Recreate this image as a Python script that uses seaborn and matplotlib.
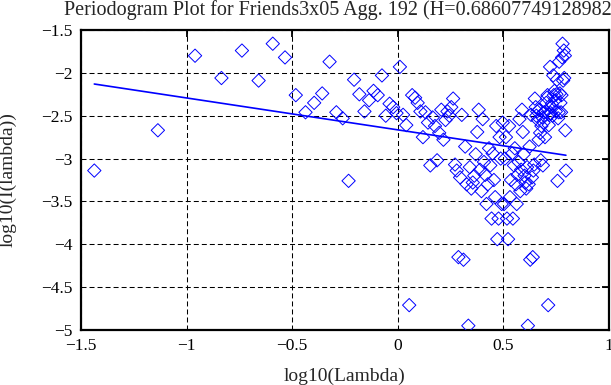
"""
Periodogram plot (log-log) for Friends3x05, aggregation 192.
"""

import numpy as np
import pandas as pd
import matplotlib
matplotlib.use("Agg")
import matplotlib.pyplot as plt
import seaborn as sns

# ── Data ─────────────────────────────────────────────────────────────────────
TITLE = "Periodogram Plot for Friends3x05 Agg. 192 (H=0.686077491289826)"
H_ESTIMATE = 0.68607749128982
FIT_INTERCEPT = -2.665

# log10 of the Fourier frequencies (left half then right half)
log_lambda = [
    -1.437, -1.136, -0.960, -0.835, -0.738, -0.659, -0.592, -0.534, -0.483, -0.437,
    -0.396, -0.358, -0.323, -0.291, -0.261, -0.233, -0.207, -0.182, -0.158, -0.136,
    -0.115, -0.095, -0.075, -0.057, -0.039, -0.022, -0.006, 0.010, 0.025, 0.040,
    0.054, 0.068, 0.082, 0.094, 0.107, 0.119, 0.131, 0.143, 0.154, 0.165,
    0.176, 0.186, 0.196, 0.206, 0.216, 0.226, 0.235, 0.244, 0.253, 0.262,
    0.271, 0.279, 0.287, 0.295, 0.303, 0.311, 0.319, 0.326, 0.334, 0.341,
    0.348, 0.355, 0.362, 0.369, 0.376, 0.383, 0.389, 0.396, 0.402, 0.408,
    0.414, 0.420, 0.426, 0.432, 0.438, 0.444, 0.449, 0.455, 0.461, 0.466,
    0.471, 0.477, 0.482, 0.487, 0.492, 0.497,
    0.503, 0.507, 0.512, 0.517, 0.522, 0.527, 0.531, 0.536, 0.541, 0.545,
    0.550, 0.554, 0.559, 0.563, 0.567, 0.572, 0.576, 0.580, 0.584, 0.588,
    0.592, 0.596, 0.600, 0.604, 0.608, 0.612, 0.616, 0.620, 0.624, 0.627,
    0.631, 0.635, 0.639, 0.642, 0.646, 0.649, 0.653, 0.656, 0.660, 0.663,
    0.667, 0.670, 0.674, 0.677, 0.680, 0.684, 0.687, 0.690, 0.693, 0.697,
    0.700, 0.703, 0.706, 0.709, 0.712, 0.715, 0.718, 0.721, 0.724, 0.727,
    0.730, 0.733, 0.736, 0.739, 0.742, 0.745, 0.748, 0.751, 0.753, 0.756,
    0.759, 0.762, 0.764, 0.767, 0.770, 0.773, 0.775, 0.778, 0.780, 0.783,
    0.786, 0.788, 0.791, 0.793, 0.796,
]

# log10 of the periodogram values
log_periodogram = [
    -3.14, -2.67, -1.80, -2.06, -1.74, -2.09, -1.66, -1.82, -2.26, -2.46,
    -2.35, -2.24, -1.87, -2.46, -2.53, -3.26, -2.08, -2.25, -2.45, -2.32,
    -2.21, -2.26, -2.03, -2.50, -2.36, -2.40, -2.47, -1.93, -2.49, -2.61,
    -4.71, -2.26, -2.29, -2.35, -2.45, -2.75, -2.46, -2.58, -3.08, -2.52,
    -2.62, -3.02, -2.70, -2.43, -2.78, -2.55, -2.45, -2.50, -2.40, -2.30,
    -3.07, -3.14, -4.15, -3.22, -2.49, -4.18, -2.86, -3.30, -4.95, -3.10,
    -3.35, -3.28, -3.20, -2.95, -2.69, -2.43, -3.13, -3.38, -2.54, -3.04,
    -3.19, -3.53, -3.30, -2.88, -3.08, -3.70, -2.94, -3.25, -3.45, -2.62,
    -3.94, -3.70, -2.75, -3.00, -3.53, -2.58,
    -3.53, -3.00, -2.75, -3.70, -3.94, -2.62, -3.45, -3.25, -2.94, -3.70,
    -3.08, -2.88, -3.30, -3.53, -3.19, -3.04, -2.54, -3.38, -3.13, -2.43,
    -2.69, -2.95, -3.20, -3.28, -3.35, -3.10, -4.95, -3.30, -2.86, -4.18,
    -2.49, -3.22, -4.15, -3.14, -3.07, -2.30, -2.40, -2.50, -2.45, -2.55,
    -2.78, -2.43, -2.70, -3.02, -2.62, -2.52, -3.08, -2.58, -2.46, -2.75,
    -2.45, -2.35, -2.29, -2.26, -4.71, -2.61, -2.49, -1.93, -2.47, -2.40,
    -2.36, -2.50, -2.03, -2.26, -2.21, -2.32, -2.45, -2.25, -2.08, -3.26,
    -2.53, -2.46, -1.87, -2.24, -2.35, -2.46, -2.26, -1.82, -1.66, -2.09,
    -1.74, -2.06, -1.80, -2.67, -3.14,
]

X_TICKS = [-1.5, -1, -0.5, 0, 0.5, 1]
X_TICK_LABELS = ["\u22121.5", "\u22121", "\u22120.5", "0", "0.5", "1"]
Y_TICKS = [-5, -4.5, -4, -3.5, -3, -2.5, -2, -1.5]
Y_TICK_LABELS = ["\u22125", "\u22124.5", "\u22124", "\u22123.5", "\u22123",
                 "\u22122.5", "\u22122", "\u22121.5"]

assert len(log_lambda) == len(log_periodogram)

# ── Style ─────────────────────────────────────────────────────────────────────
sns.set_style("white")
plt.rcParams["font.family"] = ["Liberation Serif", "DejaVu Serif"]
plt.rcParams["axes.unicode_minus"] = True

df = pd.DataFrame({"log_lambda": log_lambda, "log_I": log_periodogram})

fig = plt.figure(figsize=(6.11, 3.85), dpi=100)
ax = fig.add_axes([81 / 611, 1 - 330 / 385, 528 / 611, 300 / 385])

# Least-squares line implied by the Hurst estimate: slope = 1 - 2H
slope = 1 - 2 * H_ESTIMATE
fit_x = np.array([df["log_lambda"].min(), df["log_lambda"].max()])
fit_y = FIT_INTERCEPT + slope * fit_x

sns.scatterplot(data=df, x="log_lambda", y="log_I", marker="D", s=46,
                facecolor="none", edgecolor="blue", linewidth=0.7, ax=ax,
                zorder=3)
sns.lineplot(x=fit_x, y=fit_y, color="blue", linewidth=1.2, ax=ax, zorder=4)

ax.set_xlim(-1.5, 1)
ax.set_ylim(-5, -1.5)
ax.set_xticks(X_TICKS)
ax.set_xticklabels(X_TICK_LABELS)
ax.set_yticks(Y_TICKS)
ax.set_yticklabels(Y_TICK_LABELS)
ax.tick_params(direction="in", length=5, width=1.3, top=True, right=True,
               labelsize=12.5, colors="black", pad=6)
ax.grid(True, color="black", linestyle=(0, (4.8, 2.9)), linewidth=0.75)
for spine in ax.spines.values():
    spine.set_color("black")
    spine.set_linewidth(1.6)

ax.set_xlabel("log10(Lambda)", fontsize=14)
ax.set_ylabel("log10(I(lambda))", fontsize=14)
ax.xaxis.set_label_coords(0.5, -0.125)
ax.yaxis.set_label_coords(-0.122, 0.5)

fig.text(64 / 611, 1 - 0.5 / 385, TITLE, ha="left", va="top", fontsize=14.5)

fig.savefig("out.png", dpi=100)
plt.close(fig)
